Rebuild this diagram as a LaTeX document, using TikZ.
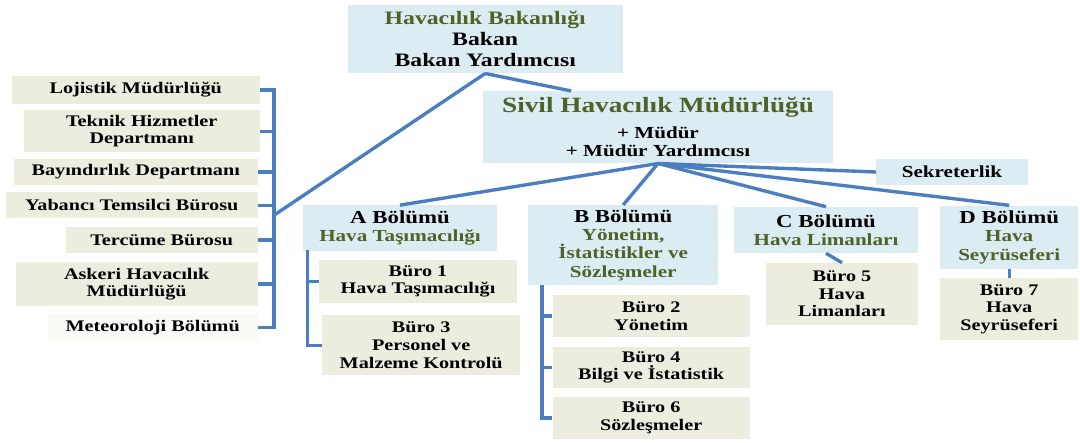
\documentclass[tikz,border=0pt]{standalone}
\usepackage{fontspec}
\setmainfont{Liberation Serif}[FakeStretch=1.25]
\definecolor{boxblue}{HTML}{DBEDF3}
\definecolor{boxtan}{HTML}{ECEDDF}
\definecolor{boxwhite}{HTML}{FAFAF6}
\definecolor{linkblue}{HTML}{4A7EC0}
\definecolor{titlegreen}{HTML}{4F6228}
\newcommand{\grn}[1]{\textcolor{titlegreen}{#1}}

\begin{document}
\begin{tikzpicture}[
    topbox/.style={fill=boxblue, align=center, inner sep=0pt, font=\bfseries\fontsize{12}{13}\selectfont},
    offbox/.style={fill=boxtan, align=center, inner sep=0pt, font=\bfseries\fontsize{11.5}{12.5}\selectfont},
    link/.style={draw=linkblue, line width=2.4pt}]
    \useasboundingbox (0.00, 0.00) rectangle (27.00, -11.05);

    % ministry and directorate
    \node[topbox, minimum width=6.88cm, minimum height=1.70cm, font=\bfseries\fontsize{13.5}{15}\selectfont](bak) at (12.13, -0.98){\grn{Havacılık Bakanlığı}\\Bakan\\Bakan Yardımcısı};
    \node[topbox, minimum width=8.73cm, minimum height=1.80cm](siv) at (16.45, -3.18){\grn{\fontsize{15.5}{16}\selectfont Sivil Havacılık Müdürlüğü}\\[5pt]+ Müdür\\+ Müdür Yardımcısı};
    \node[topbox, minimum width=3.78cm, minimum height=0.63cm](sek) at (23.80, -4.30){Sekreterlik};

    % left column
    \node[offbox, minimum width=6.20cm, minimum height=0.68cm, anchor=east](loj) at (6.50, -2.25){Lojistik Müdürlüğü};
    \node[offbox, minimum width=5.90cm, minimum height=1.05cm, anchor=east](tek) at (6.50, -3.28){Teknik Hizmetler\\Departmanı};
    \node[offbox, minimum width=6.10cm, minimum height=0.63cm, anchor=east](bay) at (6.45, -4.30){Bayındırlık Departmanı};
    \node[offbox, minimum width=6.30cm, minimum height=0.65cm, anchor=east](yab) at (6.45, -5.13){Yabancı Temsilci Bürosu};
    \node[offbox, minimum width=4.80cm, minimum height=0.63cm, anchor=east](ter) at (6.45, -6.00){Tercüme Bürosu};
    \node[offbox, minimum width=6.05cm, minimum height=1.08cm, anchor=east](ask) at (6.45, -7.10){Askeri Havacılık\\Müdürlüğü};
    \node[offbox, fill=boxwhite, minimum width=5.25cm, minimum height=0.68cm, anchor=east](met) at (6.45, -8.18){Meteoroloji Bölümü};
    \coordinate (lb) at (6.85, -5.38);

    % departments
    \node[topbox, minimum width=4.83cm, minimum height=1.13cm](da) at (10.00, -5.70){\fontsize{13}{14}\selectfont A Bölümü\\\grn{Hava Taşımacılığı}};
    \node[topbox, minimum width=4.75cm, minimum height=2.00cm](db) at (15.58, -6.13){\fontsize{13}{14}\selectfont B Bölümü\\\grn{Yönetim,}\\\grn{İstatistikler ve}\\\grn{Sözleşmeler}};
    \node[topbox, minimum width=4.58cm, minimum height=1.15cm](dc) at (20.65, -5.75){\fontsize{13}{14}\selectfont C Bölümü\\\grn{Hava Limanları}};
    \node[topbox, minimum width=3.45cm, minimum height=1.58cm](dd) at (25.23, -5.93){\fontsize{13}{14}\selectfont D Bölümü\\\grn{Hava}\\\grn{Seyrüseferi}};

    % offices
    \node[offbox, minimum width=4.93cm, minimum height=1.08cm](b1) at (10.45, -7.03){Büro 1\\Hava Taşımacılığı};
    \node[offbox, minimum width=4.95cm, minimum height=1.50cm](b3) at (10.53, -8.63){Büro 3\\Personel ve\\Malzeme Kontrolü};
    \node[offbox, minimum width=4.93cm, minimum height=1.03cm](b2) at (16.28, -7.90){Büro 2\\Yönetim};
    \node[offbox, minimum width=4.93cm, minimum height=1.03cm](b4) at (16.28, -9.18){Büro 4\\Bilgi ve İstatistik};
    \node[offbox, minimum width=4.93cm, minimum height=1.03cm](b6) at (16.28, -10.45){Büro 6\\Sözleşmeler};
    \node[offbox, minimum width=3.80cm, minimum height=1.55cm](b5) at (21.05, -7.35){Büro 5\\Hava\\Limanları};
    \node[offbox, minimum width=3.45cm, minimum height=1.55cm](b7) at (25.23, -7.73){Büro 7\\Hava\\Seyrüseferi};
    \coordinate (at) at (7.68, -6.25);
    \coordinate (bt) at (13.55, -7.13);

    % connectors
    \draw[link] (loj.east) -| (lb) |- (met.east);
    \draw[link] (tek.east) -- (tek.east -| lb);
    \draw[link] (bay.east) -- (bay.east -| lb);
    \draw[link] (yab.east) -- (yab.east -| lb);
    \draw[link] (ter.east) -- (ter.east -| lb);
    \draw[link] (ask.east) -- (ask.east -| lb);
    \draw[link] (lb) -- (bak.south);
    \draw[link] (bak.south) -- ([xshift=2.20cm]siv.north west);

    \draw[link] (siv.south) -- (da.north);
    \draw[link] (siv.south) -- (db.north);
    \draw[link] (siv.south) -- (dc.north);
    \draw[link] (siv.south) -- (dd.north);
    \draw[link] (siv.south) -- (sek.west);

    \draw[link] (at) |- (b3.west);
    \draw[link] (b1.west) -- (b1.west -| at);
    \draw[link] (bt) |- (b6.west);
    \draw[link] (b2.west) -- (b2.west -| bt);
    \draw[link] (b4.west) -- (b4.west -| bt);
    \draw[link] (dc.south) -- (b5.north);
    \draw[link] (dd.south) -- (b7.north);
  \end{tikzpicture}
\end{document}
